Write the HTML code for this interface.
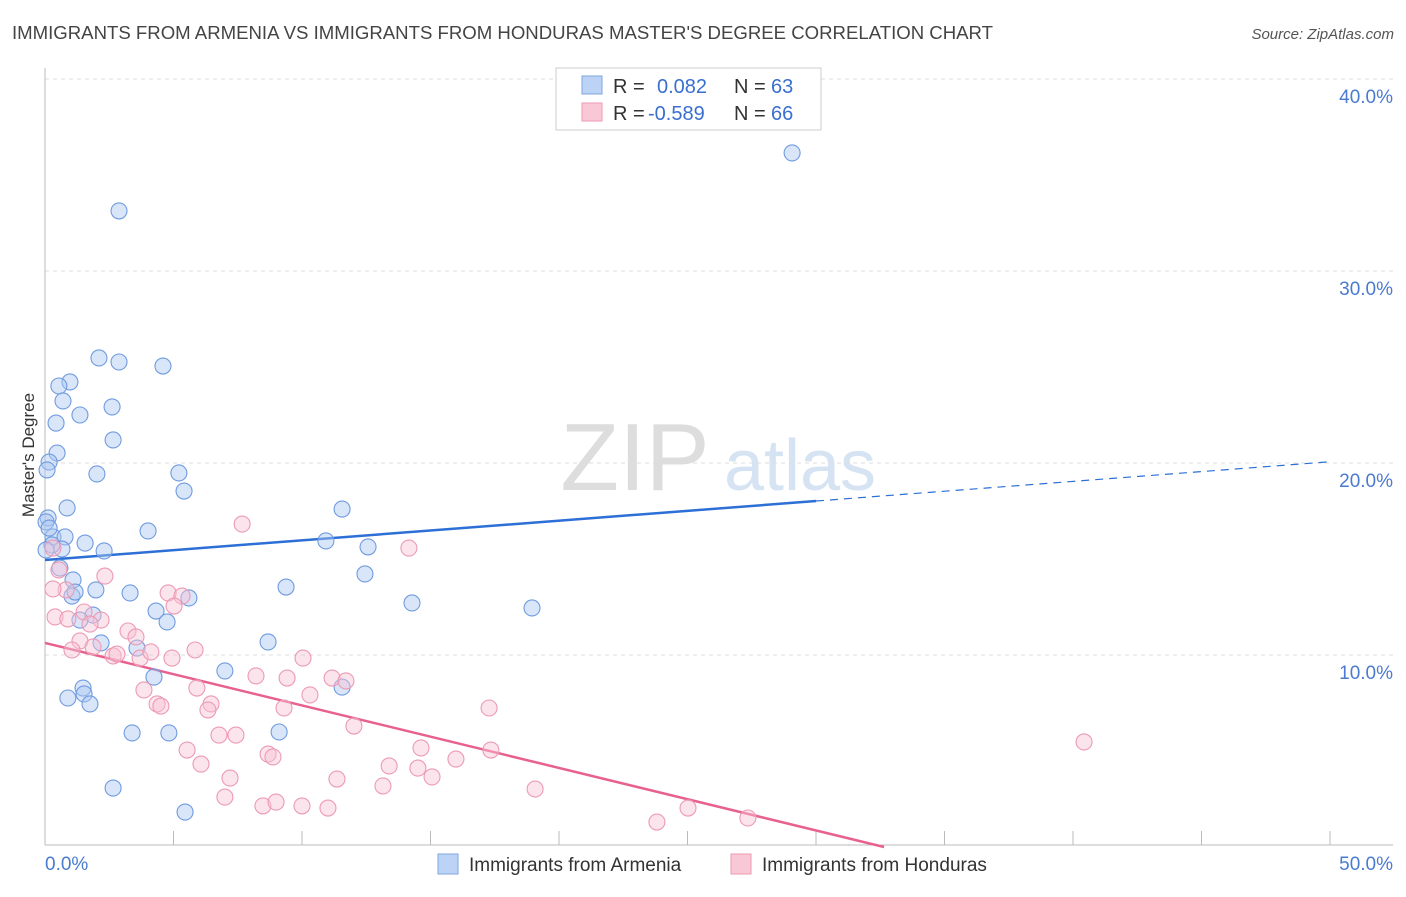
<!DOCTYPE html>
<html><head><meta charset="utf-8"><style>
body{margin:0;background:#fff;font-family:"Liberation Sans",sans-serif;}
svg text{font-family:"Liberation Sans",sans-serif;}
</style></head><body>
<svg id="chart" width="1406" height="892" xmlns="http://www.w3.org/2000/svg">
<text x="12" y="39" font-size="18.4" fill="#444" textLength="981" lengthAdjust="spacingAndGlyphs">IMMIGRANTS FROM ARMENIA VS IMMIGRANTS FROM HONDURAS MASTER'S DEGREE CORRELATION CHART</text>
<text x="1394" y="39" font-size="15" fill="#555" font-style="italic" text-anchor="end">Source: ZipAtlas.com</text>
<text transform="translate(34,455) rotate(-90)" font-size="17" fill="#333" text-anchor="middle">Master's Degree</text>
<g>
<text x="635" y="490" font-size="96" fill="#ddd" font-family="Liberation Serif" text-anchor="middle">ZIP</text>
<text x="800" y="490" font-size="72" fill="#d5e3f3" text-anchor="middle">atlas</text>
</g>
<g id="grid"></g><g id="axes"></g><g id="trend"></g><g id="pts"></g>
<g>
<rect x="556" y="68" width="265" height="62" fill="#fff" stroke="#ccc"/>
<rect x="582" y="76" width="20" height="18" fill="#bcd3f5" stroke="#7fa6e0"/>
<rect x="582" y="103" width="20" height="18" fill="#f9c8d6" stroke="#eb9ab2"/>
<text x="613" y="93" font-size="20" fill="#333">R =</text>
<text x="657" y="93" font-size="20" fill="#3a6fd0">0.082</text>
<text x="734" y="93" font-size="20" fill="#333">N =</text>
<text x="771" y="93" font-size="20" fill="#3a6fd0">63</text>
<text x="613" y="120" font-size="20" fill="#333">R =</text>
<text x="648" y="120" font-size="20" fill="#3a6fd0">-0.589</text>
<text x="734" y="120" font-size="20" fill="#333">N =</text>
<text x="771" y="120" font-size="20" fill="#3a6fd0">66</text>
</g>
<g>
<rect x="438" y="854" width="20" height="20" fill="#bcd3f5" stroke="#7fa6e0"/>
<text x="469" y="871" font-size="19" fill="#333">Immigrants from Armenia</text>
<rect x="731" y="854" width="20" height="20" fill="#f9c8d6" stroke="#eb9ab2"/>
<text x="762" y="871" font-size="19" fill="#333">Immigrants from Honduras</text>
</g>
</svg>
<script>
const yTicks=[10,20,30,40];
const yTickLabels=["10.0%","20.0%","30.0%","40.0%"];
const xTickLabels=["0.0%","50.0%"];
const armeniaX=[29.07,2.88,2.10,2.88,4.59,0.97,0.54,0.70,2.61,1.36,0.43,2.65,0.47,0.16,0.08,2.02,5.21,5.41,0.86,11.56,0.12,0.04,4.01,0.31,0.78,1.56,0.66,2.30,10.93,12.57,0.58,1.09,12.45,9.38,3.31,1.98,1.05,5.60,14.28,18.95,4.32,1.87,1.36,4.75,8.68,2.18,3.58,7.00,4.24,1.48,0.89,1.52,11.56,1.75,3.39,4.82,9.11,2.65,5.45,1.17,0.27,0.04,0.16];
const armeniaY=[36.15,33.13,25.47,25.26,25.05,24.22,24.01,23.23,22.92,22.50,22.08,21.20,20.52,20.05,19.64,19.43,19.48,18.54,17.66,17.60,17.14,16.93,16.46,16.15,16.15,15.83,15.52,15.42,15.94,15.63,14.53,13.91,14.22,13.54,13.23,13.39,13.07,12.97,12.71,12.45,12.29,12.08,11.82,11.72,10.68,10.63,10.36,9.17,8.85,8.28,7.76,7.97,8.33,7.45,5.94,5.94,5.99,3.07,1.82,13.28,15.73,15.47,16.61];
const hondurasX=[40.43,7.67,14.16,0.31,0.54,2.33,0.82,0.31,4.79,5.33,5.02,1.52,0.39,0.89,2.18,1.75,3.23,3.54,1.36,1.87,1.05,5.84,2.65,3.70,4.12,4.94,10.04,8.21,9.42,11.17,11.71,3.85,5.91,10.31,4.36,4.51,6.46,6.34,9.30,17.28,12.02,6.77,7.43,5.53,14.63,17.35,8.68,8.87,15.99,6.07,13.39,14.51,7.20,11.36,15.06,13.15,19.07,7.00,8.48,8.99,10.00,11.01,25.02,27.35,23.81,2.80];
const hondurasY=[5.47,16.82,15.57,15.57,14.43,14.11,13.39,13.44,13.23,13.07,12.55,12.24,11.98,11.88,11.82,11.61,11.25,10.94,10.73,10.42,10.26,10.26,9.95,9.84,10.16,9.84,9.84,8.91,8.80,8.80,8.65,8.18,8.28,7.92,7.45,7.34,7.45,7.14,7.24,7.24,6.30,5.83,5.83,5.05,5.16,5.05,4.84,4.69,4.58,4.32,4.22,4.11,3.59,3.54,3.65,3.18,3.02,2.60,2.14,2.34,2.14,2.03,2.03,1.51,1.30,10.05];
const armeniaTrend=[14.95,0.1023];
const hondurasTrend=[10.63,-0.3256];
const X=v=>45+v*25.7, Y=v=>847-v*19.2;
const NS="http://www.w3.org/2000/svg";
function mk(parent,tag,attrs){const e=document.createElementNS(NS,tag);for(const k in attrs)e.setAttribute(k,attrs[k]);document.getElementById(parent).appendChild(e);return e;}
yTicks.forEach((t,i)=>{
 const g=mk('grid','line',{x1:45,x2:1393,y1:Y(t),y2:Y(t),stroke:'#ddd','stroke-dasharray':'4,4'});
 
 
 const l=mk('grid','text',{x:1393,y:Y(t)+24,'font-size':19,fill:'#4a7bd0','text-anchor':'end'});l.textContent=yTickLabels[i];
 
 
});
const ax=mk('axes','line',{x1:45,x2:45,y1:68,y2:845,stroke:'#bbb'});


const bx=mk('axes','line',{x1:45,x2:1393,y1:845,y2:845,stroke:'#bbb'});


for(let i=0;i<=10;i++){const t=mk('axes','line',{x1:X(i*5),x2:X(i*5),y1:831,y2:845,stroke:'#bbb'});
 
 }
const xl0=mk('axes','text',{x:45,y:870,'font-size':19,fill:'#4a7bd0'});xl0.textContent=xTickLabels[0];


const xl1=mk('axes','text',{x:1393,y:870,'font-size':19,fill:'#4a7bd0','text-anchor':'end'});xl1.textContent=xTickLabels[1];


armeniaX.forEach((x,i)=>{const c=mk('pts','circle',{cx:X(x),cy:Y(armeniaY[i]),r:8,fill:'rgba(170,200,242,0.45)',stroke:'#6f9be0','stroke-width':1.1});
 
 });
hondurasX.forEach((x,i)=>{const c=mk('pts','circle',{cx:X(x),cy:Y(hondurasY[i]),r:8,fill:'rgba(248,195,212,0.45)',stroke:'#ec9ab3','stroke-width':1.1});
 
 });
const f=(t,x)=>t[0]+t[1]*x;
const b1=mk('trend','line',{x1:X(0),y1:Y(f(armeniaTrend,0)),x2:X(30),y2:Y(f(armeniaTrend,30)),stroke:'#2c6fd6','stroke-width':2.5});


const b2=mk('trend','line',{x1:X(30),y1:Y(f(armeniaTrend,30)),x2:X(50),y2:Y(f(armeniaTrend,50)),stroke:'#2c6fd6','stroke-width':1.2,'stroke-dasharray':'8,6'});


const xz=-hondurasTrend[0]/hondurasTrend[1];
const p1=mk('trend','line',{x1:X(0),y1:Y(f(hondurasTrend,0)),x2:X(xz),y2:Y(0),stroke:'#e8618e','stroke-width':2.5});


</script>
</body></html>
